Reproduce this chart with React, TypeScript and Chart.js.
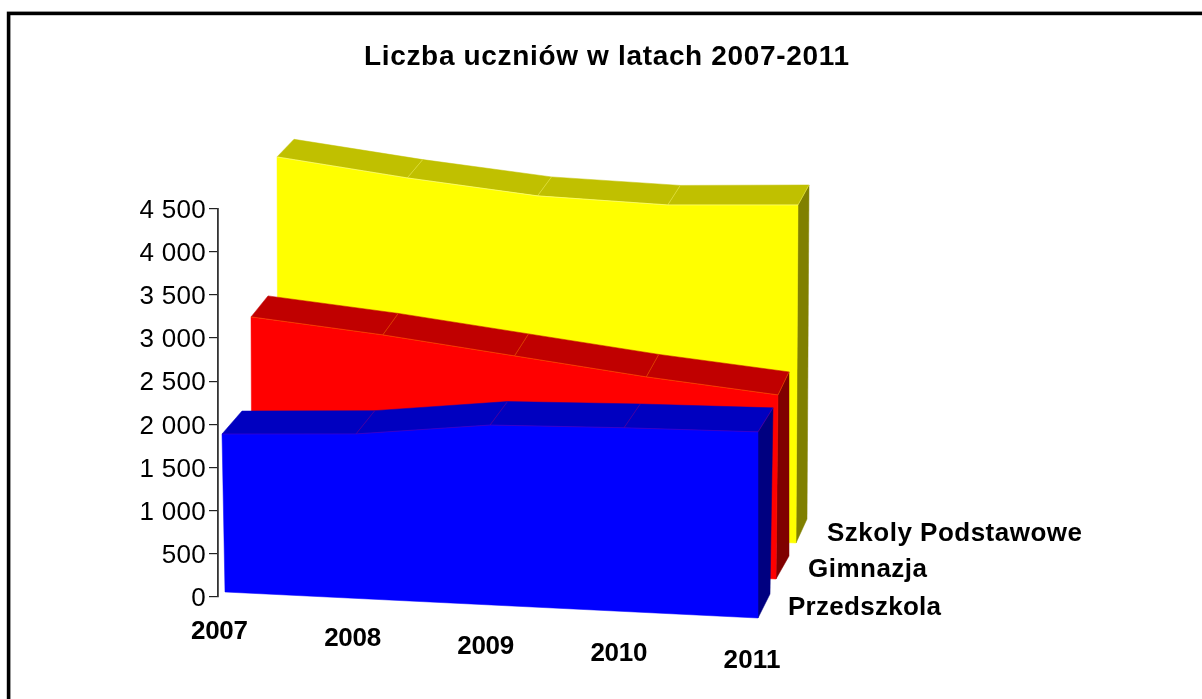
import { useEffect, useRef } from "react";
import { Chart, registerables } from "chart.js";

Chart.register(...registerables);

const years = ["2007", "2008", "2009", "2010", "2011"];
const przedszkola = [1830, 1860, 1985, 1980, 1960];
const gimnazja = [2826, 2616, 2382, 2159, 1978];
const szkolyPodstawowe = [4399, 4104, 3858, 3723, 3693];
const yTicks = [0, 500, 1000, 1500, 2000, 2500, 3000, 3500, 4000, 4500];
const chartTitle = "Liczba uczniów w latach 2007-2011";

type Pt = [number, number];
type Layer = {
  label: string;
  front: string; top: string; side: string; seam: string; edge: string;
  fL: Pt; fR: Pt; bL: Pt; bR: Pt;
  leanF: Pt; leanB: Pt;
  depth: number; backScale: number;
  tag: Pt; tagWidth: number;
};

// Projection of each band of the 3D area chart (appearance only).
const layers: Layer[] = [
  { label: "Przedszkola", front: "#0000ff", top: "#0000c0", side: "#000080", seam: "rgba(120,0,150,0.6)", edge: "rgba(110,0,170,0.5)",
    fL: [225, 592], fR: [758, 618], bL: [245, 569], bR: [770, 594], leanF: [-3, 0], leanB: [-3, 3], depth: 1, backScale: 1, tag: [788, 615], tagWidth: 153 },
  { label: "Gimnazja", front: "#ff0000", top: "#c00000", side: "#800000", seam: "rgba(255,120,0,0.5)", edge: "rgba(255,120,0,0.5)",
    fL: [252, 556], fR: [776, 579], bL: [269, 535], bR: [789, 556], leanF: [-1, 2], leanB: [-1, 0], depth: 0.98, backScale: 1, tag: [808, 577], tagWidth: 119 },
  { label: "Szkoly Podstawowe", front: "#ffff00", top: "#c0c000", side: "#808000", seam: "rgba(240,240,90,0.6)", edge: "rgba(255,255,190,0.6)",
    fL: [278, 523], fR: [796, 543], bL: [295, 501], bR: [807, 519], leanF: [-1, 2], leanB: [-1, 2], depth: 0.964, backScale: 0.988, tag: [827, 541], tagWidth: 255 },
];
const perspectiveGrowth = 0.1;
const yearTagL: Pt = [219.5, 639];
const yearTagR: Pt = [752, 668];

const lerp = (a: number, b: number, t: number) => a + (b - a) * t;
const lerpPt = (a: Pt, b: Pt, t: number): Pt => [lerp(a[0], b[0], t), lerp(a[1], b[1], t)];

function fitText(ctx: any, text: string, x: number, y: number, width: number, font: string) {
  ctx.save();
  ctx.font = font;
  ctx.fillStyle = "#000";
  ctx.textAlign = "left";
  ctx.textBaseline = "alphabetic";
  ctx.letterSpacing = "0px";
  const natural = ctx.measureText(text).width;
  ctx.letterSpacing = `${(width - natural) / Math.max(1, text.length - 1)}px`;
  ctx.fillText(text, x, y);
  ctx.restore();
}

function poly(ctx: any, pts: Pt[], fill: string) {
  ctx.beginPath();
  pts.forEach((p, i) => (i ? ctx.lineTo(p[0], p[1]) : ctx.moveTo(p[0], p[1])));
  ctx.closePath();
  ctx.fillStyle = fill;
  ctx.fill();
  ctx.strokeStyle = fill;
  ctx.lineWidth = 0.5;
  ctx.stroke();
}

function geometry(chart: any, s: number) {
  const layer = layers[s];
  const xs = chart.scales.x;
  const ys = chart.scales.y;
  const values: number[] = chart.data.datasets[s].data;
  const front: Pt[] = [];
  const back: Pt[] = [];
  values.forEach((v, i) => {
    const t = (xs.getPixelForValue(i) - xs.left) / (xs.right - xs.left);
    const h = (ys.getPixelForValue(0) - ys.getPixelForValue(v)) * layer.depth * (1 + perspectiveGrowth * t);
    const bf = lerpPt(layer.fL, layer.fR, t);
    const bb = lerpPt(layer.bL, layer.bR, t);
    front.push([bf[0] + lerp(layer.leanF[0], layer.leanF[1], t), bf[1] - h]);
    back.push([bb[0] + lerp(layer.leanB[0], layer.leanB[1], t), bb[1] - h * layer.backScale]);
  });
  return { front, back };
}

const area3d = {
  id: "area3d",
  beforeDraw(chart: any) {
    const { ctx, width, height } = chart;
    ctx.save();
    ctx.fillStyle = "#ffffff";
    ctx.fillRect(0, 0, width, height);
    ctx.strokeStyle = "#000";
    ctx.lineWidth = 3.6;
    ctx.strokeRect(8.6, 13.4, width + 40, height + 40);
    ctx.restore();
    ctx.letterSpacing = "0.3px";
  },
  afterDatasetsUpdate(chart: any) {
    layers.forEach((_, s) => {
      const { front } = geometry(chart, s);
      chart.getDatasetMeta(s).data.forEach((el: any, i: number) => {
        el.x = front[i][0];
        el.y = front[i][1];
      });
    });
  },
  beforeDatasetDraw(chart: any, args: any) {
    const s = args.index;
    const layer = layers[s];
    const { ctx } = chart;
    const { front, back } = geometry(chart, s);
    const n = front.length - 1;
    ctx.save();
    ctx.letterSpacing = "0px";
    poly(ctx, [layer.fR, layer.bR, back[n], front[n]], layer.side);
    for (let i = 0; i < n; i++) {
      poly(ctx, [front[i], front[i + 1], back[i + 1], back[i]], layer.top);
    }
    poly(ctx, [layer.fL, layer.fR, ...front.slice().reverse()], layer.front);
    ctx.strokeStyle = layer.seam;
    ctx.lineWidth = 0.8;
    for (let i = 1; i <= n; i++) {
      ctx.beginPath();
      ctx.moveTo(front[i][0], front[i][1]);
      ctx.lineTo(back[i][0], back[i][1]);
      ctx.stroke();
    }
    ctx.restore();
  },
  afterDraw(chart: any) {
    const { ctx } = chart;
    const xs = chart.scales.x;
    ctx.letterSpacing = "0px";
    fitText(ctx, chartTitle, 364, 65, 485, "bold 28px 'Liberation Sans'");
    layers.forEach((l) => fitText(ctx, l.label, l.tag[0], l.tag[1], l.tagWidth, "bold 26px 'Liberation Sans'"));
    years.forEach((y, i) => {
      const t = (xs.getPixelForValue(i) - xs.left) / (xs.right - xs.left);
      const p = lerpPt(yearTagL, yearTagR, t);
      fitText(ctx, y, p[0] - 28.5, p[1], 57, "bold 26px 'Liberation Sans'");
    });
  },
};

export default function App() {
  const ref = useRef<HTMLCanvasElement>(null);
  useEffect(() => {
    const chart = new Chart(ref.current as HTMLCanvasElement, {
      type: "line",
      data: {
        labels: years,
        datasets: [przedszkola, gimnazja, szkolyPodstawowe].map((data, s) => ({
          label: layers[s].label,
          data,
          borderColor: layers[s].edge,
          borderWidth: 0.8,
          backgroundColor: layers[s].front,
          pointRadius: 0,
          tension: 0,
          fill: false,
          clip: false as any,
        })),
      },
      options: {
        responsive: false,
        animation: false,
        layout: { padding: { top: 208.5, bottom: 102, left: 0, right: 444 } },
        plugins: { legend: { display: false }, title: { display: false }, tooltip: { enabled: false } },
        scales: {
          x: { type: "category", display: false },
          y: {
            type: "linear",
            min: 0,
            max: 4500,
            afterFit(scale: any) { scale.width = 218; },
            afterBuildTicks(scale: any) { scale.ticks = yTicks.map((value) => ({ value })); },
            grid: { drawOnChartArea: false, drawTicks: true, tickLength: 9, color: "#222", lineWidth: 1.2 },
            border: { display: true, color: "#333", width: 1.8 },
            ticks: {
              color: "#000",
              padding: 3,
              labelOffset: 2,
              font: { family: "'Liberation Sans'", size: 26 },
              callback: (v: any) => (v >= 1000 ? `${Math.floor(v / 1000)} ${String(v % 1000).padStart(3, "0")}` : String(v)),
            },
          },
        },
      },
      plugins: [area3d],
    } as any);
    return () => chart.destroy();
  }, []);
  return (
    <div style={{ position: "fixed", left: 0, top: 0, width: 1202, height: 699, overflow: "hidden", background: "#fff" }}>
      <canvas ref={ref} width={1202} height={699} style={{ display: "block" }} />
    </div>
  );
}
